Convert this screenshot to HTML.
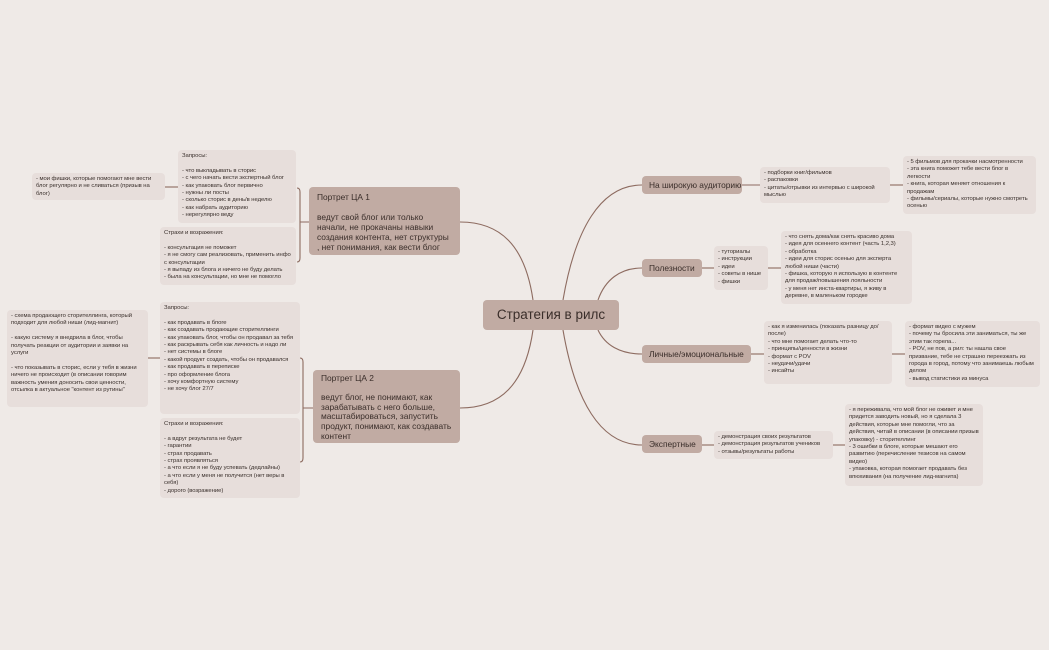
<!DOCTYPE html>
<html><head><meta charset="utf-8"><style>
body{margin:0;width:1049px;height:650px;background:#efeae7;position:relative;overflow:hidden;font-family:"Liberation Sans","Noto Sans CJK SC",sans-serif;}
.b{position:absolute;background:#e7dedb;border-radius:4px;font-size:5.9px;line-height:7.4px;color:#3a302c;padding:3px 4px;box-sizing:border-box;white-space:pre-wrap;letter-spacing:-0.05px;}
.m{position:absolute;background:#c1aba3;border-radius:4px;color:#3a2e2a;box-sizing:border-box;}
.r{font-size:8.4px;padding:0 7px;line-height:18px;height:18px;white-space:nowrap;}
.p{font-size:8.4px;line-height:10px;padding:5px 8px;white-space:pre-wrap;}
svg{position:absolute;left:0;top:0}
</style></head><body>
<svg width="1049" height="650" fill="none" stroke="#8d6b60" stroke-width="1.1">
<path d="M533 300 C525 245 500 222 460 222"/>
<path d="M533 330 C525 385 500 408 460 408"/>
<path d="M563 300 C575 230 600 185 642 185"/>
<path d="M598 300 C605 280 620 268 642 268"/>
<path d="M598 330 C605 345 620 354 642 354"/>
<path d="M563 330 C575 400 600 445 642 445"/>
<path d="M309 222 H300 M297 188 Q300 188 300 192 V258 Q300 262 297 262"/>
<path d="M313 408 H303 M300 358 Q303 358 303 362 V458 Q303 462 300 462"/>
<path d="M165 187 H178"/>
<path d="M148 358 H160"/>
<path d="M742 185 H760"/>
<path d="M890 185 H903"/>
<path d="M702 268 H714"/>
<path d="M768 268 H781"/>
<path d="M751 354 H764"/>
<path d="M892 354 H905"/>
<path d="M702 445 H714"/>
<path d="M833 445 H845"/>
</svg>
<div class="m" style="left:483px;top:300px;width:136px;height:30px;font-size:13.5px;line-height:30px;text-align:center;">Стратегия в рилс</div>
<div class="m p" style="left:309px;top:187px;width:151px;height:68px;">Портрет ЦА 1

ведут свой блог или только начали, не прокачаны навыки создания контента, нет структуры , нет понимания, как вести блог</div>
<div class="m p" style="left:313px;top:370px;width:147px;height:73px;line-height:9.6px;padding-top:4px;">Портрет ЦА 2

ведут блог, не понимают, как зарабатывать с него больше, масштабироваться, запустить продукт, понимают, как создавать контент</div>
<div class="b" style="left:178px;top:150px;width:118px;height:73px;">Запросы:

- что выкладывать в сторис
- с чего начать вести экспертный блог
- как упаковать блог первично
- нужны ли посты
- сколько сторис в день/в неделю
- как набрать аудиторию
- нерегулярно веду</div>
<div class="b" style="left:160px;top:227px;width:136px;height:58px;">Страхи и возражения:

- консультация не поможет
- я не смогу сам реализовать, применить инфо с консультации
- я выпаду из блога и ничего не буду делать
- была на консультации, но мне не помогло</div>
<div class="b" style="left:32px;top:173px;width:133px;height:27px;">- мои фишки, которые помогают мне вести блог регулярно и не сливаться (призыв на блог)</div>
<div class="b" style="left:160px;top:302px;width:140px;height:112px;">Запросы:

- как продавать в блоге
- как создавать продающие сторителлинги
- как упаковать блог, чтобы он продавал за тебя
- как раскрывать себя как личность и надо ли
- нет системы в блоге
- какой продукт создать, чтобы он продавался
- как продавать в переписке
- про оформление блога
- хочу комфортную систему
- не хочу блог 27/7</div>
<div class="b" style="left:160px;top:418px;width:140px;height:80px;">Страхи и возражения:

- а вдруг результата не будет
- гарантии
- страх продавать
- страх проявляться
- а что если я не буду успевать (дедлайны)
- а что если у меня не получится (нет веры в себя)
- дорого (возражение)</div>
<div class="b" style="left:7px;top:310px;width:141px;height:97px;">- схема продающего сторителлинга, который подходит для любой ниши (лид-магнит)

- какую систему я внедрила в блог, чтобы получать реакции от аудитории и заявки на услуги

- что показывать в сторис, если у тебя в жизни ничего не происходит (в описании говорим важность умения доносить свои ценности, отсылка в актуальное "контент из рутины"</div>
<div class="m r" style="left:642px;top:176px;width:100px;">На широкую аудиторию</div>
<div class="m r" style="left:642px;top:259px;width:60px;">Полезности</div>
<div class="m r" style="left:642px;top:345px;width:109px;">Личные/эмоциональные</div>
<div class="m r" style="left:642px;top:435px;width:60px;">Экспертные</div>
<div class="b" style="left:760px;top:167px;width:130px;height:36px;">- подборки книг/фильмов
- распаковки
- цитаты/отрывки из интервью с широкой мыслью</div>
<div class="b" style="left:903px;top:156px;width:133px;height:58px;">- 5 фильмов для прокачки насмотренности
- эта книга поможет тебе вести блог в легкости
- книга, которая меняет отношения к продажам
- фильмы/сериалы, которые нужно смотреть осенью</div>
<div class="b" style="left:714px;top:246px;width:54px;height:44px;">- туториалы
- инструкции
- идеи
- советы в нише
- фишки</div>
<div class="b" style="left:781px;top:231px;width:131px;height:73px;">- что снять дома/как снять красиво дома
- идея для осеннего контент (часть 1,2,3)
- обработка
- идеи для сторис осенью для эксперта любой ниши (части)
- фишка, которую я использую в контенте для продаж/повышения лояльности
- у меня нет инста-квартиры, я живу в деревне, в маленьком городке</div>
<div class="b" style="left:764px;top:321px;width:128px;height:63px;">- как я изменилась (показать разницу до/после)
- что мне помогает делать что-то
- принципы/ценности в жизни
- формат с POV
- неудачи/удачи
- инсайты</div>
<div class="b" style="left:905px;top:321px;width:135px;height:66px;">- формат видео с мужем
- почему ты бросила эти заниматься, ты же этим так горела...
- POV, не пов, а рил: ты нашла свое призвание, тебе не страшно переезжать из города в город, потому что занимаешь любым делом
- вывод статистики из минуса</div>
<div class="b" style="left:714px;top:431px;width:119px;height:28px;">- демонстрация своих результатов
- демонстрация результатов учеников
- отзывы/результаты работы</div>
<div class="b" style="left:845px;top:404px;width:138px;height:82px;">- я переживала, что мой блог не оживет и мне придется заводить новый, но я сделала 3 действия, которые мне помогли, что за действия, читай в описании (в описании призыв упаковку) - сторителлинг
- 3 ошибки в блоге, которые мешают его развитию (перечисление тезисов на самом видео)
- упаковка, которая помогает продавать без впюхивания (на получение лид-магнита)</div>
</body></html>
